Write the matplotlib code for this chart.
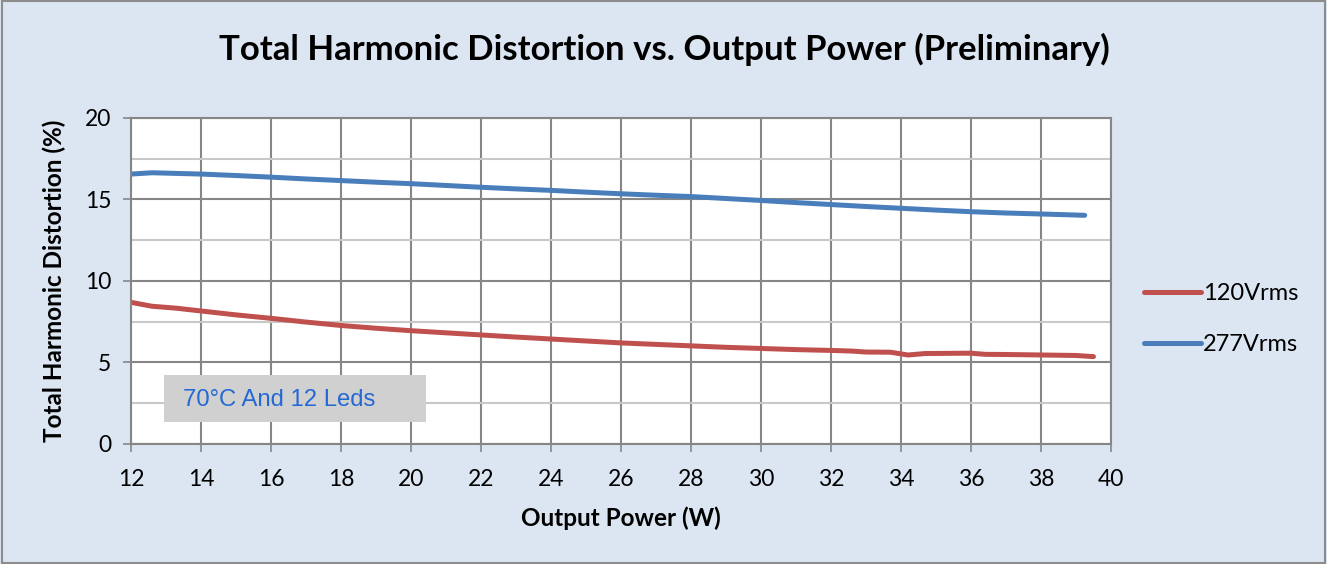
import matplotlib.pyplot as plt
from matplotlib.patches import Rectangle
from matplotlib.ticker import MultipleLocator

# values
p_120 = [12, 12.6, 13.3, 14, 15, 16, 17, 18, 19, 20, 21, 22, 23, 24, 25, 26, 27, 28, 29,
         30, 31, 32, 32.6, 33.0, 33.7, 34.2, 34.7, 35.3, 36, 36.4, 37, 38, 39, 39.5]
thd_120 = [8.69, 8.45, 8.33, 8.16, 7.92, 7.71, 7.48, 7.27, 7.10, 6.95, 6.82, 6.69, 6.56, 6.44,
           6.32, 6.20, 6.11, 6.02, 5.93, 5.86, 5.79, 5.74, 5.70, 5.64, 5.63, 5.46, 5.55, 5.56,
           5.57, 5.50, 5.49, 5.46, 5.43, 5.36]

p_277 = [12, 12.6, 14, 15, 16, 17, 18, 19, 20, 21, 22, 23, 24, 25, 26, 27, 28, 29,
         30, 31, 32, 33, 34, 35, 36, 37, 38, 39.25]
thd_277 = [16.56, 16.64, 16.56, 16.47, 16.37, 16.26, 16.16, 16.06, 15.97, 15.86, 15.75,
           15.65, 15.56, 15.45, 15.35, 15.26, 15.18, 15.06, 14.94, 14.81, 14.69, 14.57,
           14.46, 14.35, 14.25, 14.17, 14.11, 14.03]

bg = '#dce6f2'
font = ['Lato', 'DejaVu Sans']
plt.rcParams['font.family'] = font

fig = plt.figure(figsize=(13.27, 5.64), dpi=100, facecolor=bg)
fig.patches.append(Rectangle((0.0015, 0.002), 0.997, 0.996, transform=fig.transFigure,
                             facecolor='none', edgecolor='#8c8c8c', linewidth=1.5))
ax = fig.add_axes([0.0987, 0.2128, 0.7385, 0.578])
ax.set_facecolor('white')

ax.plot(p_120, thd_120, color='#c0504d', linewidth=3.6, solid_capstyle='round', label='120Vrms')
ax.plot(p_277, thd_277, color='#4a7ebb', linewidth=3.6, solid_capstyle='round', label='277Vrms')

ax.set_xlim(12, 40)
ax.set_ylim(0, 20)
ax.xaxis.set_major_locator(MultipleLocator(2))
ax.yaxis.set_major_locator(MultipleLocator(5))
ax.yaxis.set_minor_locator(MultipleLocator(2.5))
ax.grid(which='major', color='#868686', linewidth=1.5)
ax.grid(which='minor', axis='y', color='#c8c8c8', linewidth=1.5)
ax.set_axisbelow(True)
ax.tick_params(which='major', direction='out', length=6, width=1.2, color='#868686',
               labelsize=16.5)
ax.tick_params(axis='x', pad=12)
ax.tick_params(axis='y', pad=8)
ax.tick_params(which='minor', length=0)
for s in ax.spines.values():
    s.set_color('#868686')
    s.set_linewidth(1.5)

# title is centred on the whole figure, not on the axes
fig.text(0.501, 0.912, 'Total Harmonic Distortion vs. Output Power (Preliminary)',
         fontsize=25, fontweight='bold', ha='center', va='center')
ax.set_xlabel('Output Power (W)', fontsize=17.5, fontweight='bold', labelpad=12)
ax.set_ylabel('Total Harmonic Distortion (%)', fontsize=17.5, fontweight='bold', labelpad=14)

# label box in the lower left of the plot
ax.add_patch(Rectangle((12.94, 1.35), 7.48, 2.88, facecolor='#d0d0d0', edgecolor='none',
                       zorder=3))
ax.text(13.5, 2.72, '70°C And 12 Leds', fontsize=17.2, color='#2468d4', va='center',
        family='Liberation Sans', zorder=4)

ax.legend(loc='center left', bbox_to_anchor=(1.012, 0.383), frameon=False, fontsize=17,
          handlelength=2.4, handletextpad=0.1, labelspacing=1.25)

fig.savefig('out.png', dpi=100, facecolor=bg)
